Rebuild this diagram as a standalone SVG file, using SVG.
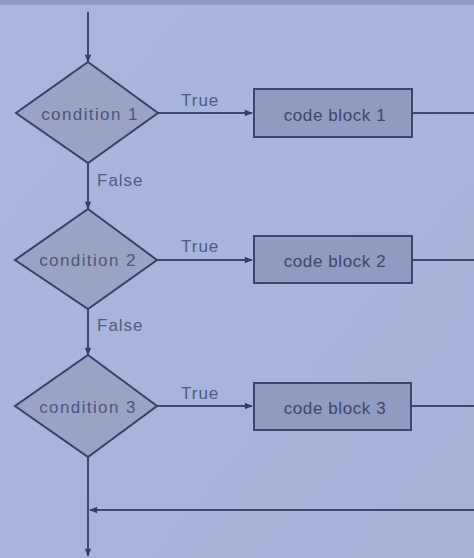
<svg xmlns="http://www.w3.org/2000/svg" width="474" height="558" viewBox="0 0 474 558">
  <defs>
    <marker id="arrow" viewBox="0 0 10 10" refX="9" refY="5" markerWidth="9" markerHeight="8" orient="auto" markerUnits="userSpaceOnUse">
      <path d="M0,1 L10,5 L0,9 z" fill="#333f68"/>
    </marker>
    <linearGradient id="page" x1="0" y1="0" x2="1" y2="1">
      <stop offset="0" stop-color="#a9b6de"/>
      <stop offset="1" stop-color="#a5b2d8"/>
    </linearGradient>
  </defs>
  <style>
    .decision { fill: #99a3c5; stroke: #36426a; stroke-width: 2; }
    .process { fill: #8f9bc0; stroke: #3a466e; stroke-width: 2; }
    .flow { fill: none; stroke: #3b4870; stroke-width: 2; }
    .cond { font-family: "Liberation Sans", Arial, sans-serif; font-size: 17px; letter-spacing: 1.4px; fill: #4d5778; }
    .code { font-family: "Liberation Sans", Arial, sans-serif; font-size: 17px; letter-spacing: 0.6px; fill: #3e4768; }
    .edge-label { font-family: "Liberation Sans", Arial, sans-serif; font-size: 17px; letter-spacing: 1px; fill: #4f5a7c; }
  </style>

  <!-- page background -->
  <rect x="0" y="0" width="474" height="558" fill="url(#page)"/>
  <rect x="0" y="0" width="474" height="5" fill="#8f9bc2"/>

  <!-- connectors -->
  <g id="connectors">
    <line class="flow" x1="88" y1="12" x2="88" y2="62" marker-end="url(#arrow)"/>
    <line class="flow" x1="158" y1="113" x2="252" y2="113" marker-end="url(#arrow)"/>
    <line class="flow" x1="88" y1="163" x2="88" y2="209" marker-end="url(#arrow)"/>
    <line class="flow" x1="157" y1="260" x2="252" y2="260" marker-end="url(#arrow)"/>
    <line class="flow" x1="88" y1="309" x2="88" y2="355" marker-end="url(#arrow)"/>
    <line class="flow" x1="157" y1="406" x2="252" y2="406" marker-end="url(#arrow)"/>
    <line class="flow" x1="88" y1="457" x2="88" y2="556" marker-end="url(#arrow)"/>
    <line class="flow" x1="412" y1="113" x2="474" y2="113"/>
    <line class="flow" x1="412" y1="260" x2="474" y2="260"/>
    <line class="flow" x1="411" y1="406" x2="474" y2="406"/>
    <line class="flow" x1="474" y1="510" x2="90" y2="510" marker-end="url(#arrow)"/>
    <text class="edge-label" x="181" y="106">True</text>
    <text class="edge-label" x="181" y="252">True</text>
    <text class="edge-label" x="181" y="399">True</text>
    <text class="edge-label" x="97" y="186">False</text>
    <text class="edge-label" x="97" y="331">False</text>
  </g>

  <!-- decisions -->
  <g id="condition1">
    <polygon class="decision" points="88,62 158,113 88,163 16,113"/>
    <text class="cond" x="90" y="120" text-anchor="middle">condition 1</text>
  </g>
  <g id="condition2">
    <polygon class="decision" points="88,209 157,260 88,309 15,260"/>
    <text class="cond" x="88" y="266" text-anchor="middle">condition 2</text>
  </g>
  <g id="condition3">
    <polygon class="decision" points="88,355 157,406 88,457 15,406"/>
    <text class="cond" x="88" y="413" text-anchor="middle">condition 3</text>
  </g>

  <!-- code blocks -->
  <g id="block1">
    <rect class="process" x="254" y="89" width="158" height="48"/>
    <text class="code" x="335" y="121" text-anchor="middle">code block 1</text>
  </g>
  <g id="block2">
    <rect class="process" x="254" y="236" width="158" height="47"/>
    <text class="code" x="335" y="267" text-anchor="middle">code block 2</text>
  </g>
  <g id="block3">
    <rect class="process" x="254" y="383" width="157" height="47"/>
    <text class="code" x="335" y="414" text-anchor="middle">code block 3</text>
  </g>
</svg>
